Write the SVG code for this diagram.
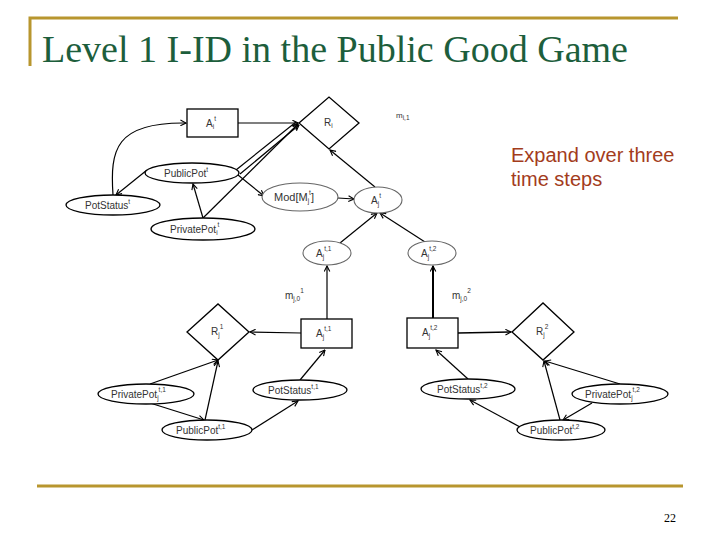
<svg xmlns="http://www.w3.org/2000/svg" width="720" height="540" viewBox="0 0 720 540">
<style>
.gold{stroke:#b8962e;stroke-width:3;fill:none}
.title{font-family:"Liberation Serif","Times New Roman",serif;font-size:38px;fill:#1d5e3c}
.note{font-family:"Liberation Sans",Arial,sans-serif;font-size:20px;fill:#a33c1c}
.lbl{font-family:"Liberation Sans",Arial,sans-serif;font-size:10px;fill:#333}
.s{font-size:6.5px}
.shape{fill:#fff;stroke:#000;stroke-width:1.3}
.gray{fill:#fff;stroke:#666;stroke-width:1.1}
.e{stroke:#000;stroke-width:1.2;fill:none;marker-end:url(#ah)}
.n{stroke:#000;stroke-width:1.2;fill:none}
</style>
<defs>
<marker id="ah" viewBox="0 0 10 10" refX="9" refY="5" markerWidth="7" markerHeight="7" orient="auto" markerUnits="userSpaceOnUse">
<path d="M1,1 L9,5 L1,9" fill="none" stroke="#000" stroke-width="1.6"/>
</marker>
</defs>
<rect width="720" height="540" fill="#fff"/>
<g id="frame">
<path class="gold" d="M30,66 L30,18 L678,18"/>
<path class="gold" d="M37,486 L683,486"/>
<text class="title" x="42" y="62" textLength="586" lengthAdjust="spacingAndGlyphs">Level 1 I-ID in the Public Good Game</text>
<text class="note" x="511" y="162">Expand over three</text>
<text class="note" x="511" y="186">time steps</text>
<text x="664" y="522" font-family="Liberation Serif,serif" font-size="12" fill="#000">22</text>
</g>
<g id="connectors">
<path class="e" d="M238,123 L298,123"/>
<path class="e" d="M113,195 C110,150 115,122 186,123"/>
<path class="e" d="M147,170 L116,195"/>
<path class="e" d="M203,218 L193,184"/>
<path class="e" d="M203,218 L298,124"/>
<path class="n" d="M236,170 L296,122"/>
<path class="e" d="M240,174 L299,125"/>
<path class="e" d="M238,175 L264,196"/>
<path class="e" d="M338,198 L354,199"/>
<path class="e" d="M375,187 L330,150"/>
<path class="e" d="M340,243 L377,213"/>
<path class="e" d="M425,242 L380,213"/>
<path class="e" d="M327,319 L327,266"/>
<path class="e" d="M433,318 L433,266" style="stroke-width:2"/>
<path class="e" d="M301,333 L250,332"/>
<path class="e" d="M458,333 L511,332" style="stroke-width:1.6"/>
<path class="e" d="M150,384 L218,360"/>
<path class="e" d="M205,420 L218,361"/>
<path class="e" d="M150,403 L204,420"/>
<path class="e" d="M252,430 L298,401"/>
<path class="e" d="M300,380 L325,350"/>
<path class="e" d="M468,379 L436,350"/>
<path class="e" d="M520,427 L470,400"/>
<path class="e" d="M560,420 L544,361"/>
<path class="e" d="M620,384 L545,361"/>
<path class="e" d="M592,403 L563,420"/>
</g>
<g id="Ai_t"><rect class="shape" x="187" y="109" width="51" height="28"/><text class="lbl" x="206" y="127">A<tspan class="s" dy="2">i</tspan><tspan class="s" dy="-8">t</tspan></text></g>
<g id="Ri"><polygon class="shape" points="299,123 329,97 359,123 329,149"/><text class="lbl" x="324" y="126">R<tspan class="s" dy="2">i</tspan></text></g>
<g id="mi1"><text class="lbl" x="396" y="118" style="font-size:8px">m<tspan class="s" dy="2">i,1</tspan></text></g>
<g id="PublicPot_t"><ellipse class="shape" cx="192" cy="173" rx="47" ry="10"/><text class="lbl" x="164" y="177">PublicPot<tspan class="s" dy="-5">t</tspan></text></g>
<g id="PotStatus_t"><ellipse class="shape" cx="113" cy="205" rx="47" ry="10"/><text class="lbl" x="85" y="209">PotStatus<tspan class="s" dy="-5">t</tspan></text></g>
<g id="PrivatePot_t"><ellipse class="shape" cx="203" cy="229" rx="52" ry="11"/><text class="lbl" x="170" y="233">PrivatePot<tspan class="s" dy="2">i</tspan><tspan class="s" dy="-8">t</tspan></text></g>
<g id="Mod"><ellipse class="gray" cx="300" cy="197" rx="38" ry="14"/><text class="lbl" x="274" y="201" style="font-size:11px">Mod[M<tspan class="s" dy="2">j</tspan><tspan class="s" dy="-8">t</tspan><tspan dy="6">]</tspan></text></g>
<g id="Aj_t"><ellipse class="gray" cx="378" cy="200" rx="24" ry="13"/><text class="lbl" x="371" y="204">A<tspan class="s" dy="2">j</tspan><tspan class="s" dy="-8">t</tspan></text></g>
<g id="Aj_t1_e"><ellipse class="gray" cx="327" cy="253" rx="24" ry="12"/><text class="lbl" x="316" y="257">A<tspan class="s" dy="2">j</tspan><tspan class="s" dy="-8">t,1</tspan></text></g>
<g id="Aj_t2_e"><ellipse class="gray" cx="432" cy="253" rx="24" ry="12"/><text class="lbl" x="421" y="257">A<tspan class="s" dy="2">j</tspan><tspan class="s" dy="-8">t,2</tspan></text></g>
<g id="mj01"><text class="lbl" x="285" y="299">m<tspan class="s" dy="2">j,0</tspan><tspan class="s" dy="-8">1</tspan></text></g>
<g id="mj02"><text class="lbl" x="452" y="299">m<tspan class="s" dy="2">j,0</tspan><tspan class="s" dy="-8">2</tspan></text></g>
<g id="Aj_t1_r"><rect class="shape" x="301" y="319" width="51" height="29"/><text class="lbl" x="316" y="337">A<tspan class="s" dy="2">j</tspan><tspan class="s" dy="-8">t,1</tspan></text></g>
<g id="Aj_t2_r"><rect class="shape" x="407" y="318" width="51" height="30"/><text class="lbl" x="422" y="336">A<tspan class="s" dy="2">j</tspan><tspan class="s" dy="-8">t,2</tspan></text></g>
<g id="Rj1"><polygon class="shape" points="187,332 218,304 249,332 218,360"/><text class="lbl" x="211" y="335">R<tspan class="s" dy="2">j</tspan><tspan class="s" dy="-8">1</tspan></text></g>
<g id="Rj2"><polygon class="shape" points="512,332 543,303 574,332 543,360"/><text class="lbl" x="536" y="335">R<tspan class="s" dy="2">j</tspan><tspan class="s" dy="-8">2</tspan></text></g>
<g id="PrivatePot_t1"><ellipse class="shape" cx="146" cy="394" rx="48" ry="10"/><text class="lbl" x="111" y="398">PrivatePot<tspan class="s" dy="2">j</tspan><tspan class="s" dy="-8">t,1</tspan></text></g>
<g id="PublicPot_t1"><ellipse class="shape" cx="207" cy="430" rx="45" ry="10"/><text class="lbl" x="176" y="434">PublicPot<tspan class="s" dy="-5">t,1</tspan></text></g>
<g id="PotStatus_t1"><ellipse class="shape" cx="300" cy="390" rx="47" ry="10"/><text class="lbl" x="268" y="394">PotStatus<tspan class="s" dy="-5">t,1</tspan></text></g>
<g id="PotStatus_t2"><ellipse class="shape" cx="468" cy="389" rx="47" ry="10"/><text class="lbl" x="437" y="393">PotStatus<tspan class="s" dy="-5">t,2</tspan></text></g>
<g id="PrivatePot_t2"><ellipse class="shape" cx="620" cy="394" rx="48" ry="10"/><text class="lbl" x="585" y="398">PrivatePot<tspan class="s" dy="2">j</tspan><tspan class="s" dy="-8">t,2</tspan></text></g>
<g id="PublicPot_t2"><ellipse class="shape" cx="561" cy="430" rx="44" ry="10"/><text class="lbl" x="530" y="434">PublicPot<tspan class="s" dy="-5">t,2</tspan></text></g>
</svg>
